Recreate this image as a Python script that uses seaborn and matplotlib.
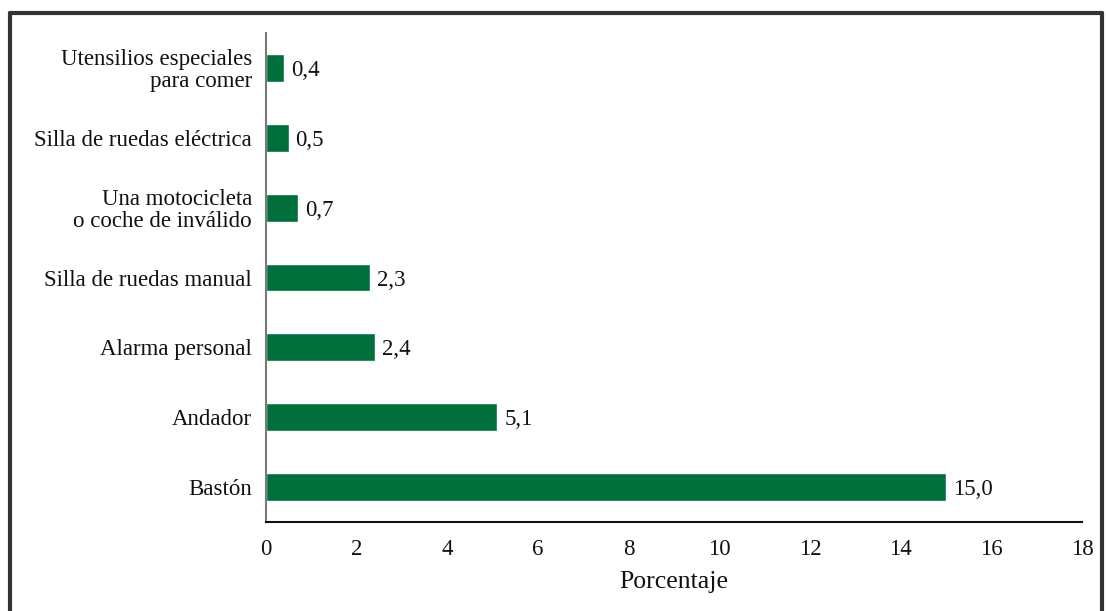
import matplotlib
matplotlib.use("Agg")
import matplotlib.pyplot as plt
from matplotlib.lines import Line2D
import seaborn as sns
import pandas as pd

categories = [
    "Utensilios especiales\npara comer",
    "Silla de ruedas eléctrica",
    "Una motocicleta\no coche de inválido",
    "Silla de ruedas manual",
    "Alarma personal",
    "Andador",
    "Bastón",
]
values = [0.4, 0.5, 0.7, 2.3, 2.4, 5.1, 15.0]
x_ticks = [0, 2, 4, 6, 8, 10, 12, 14, 16, 18]

sns.set_theme(style="white")
plt.rcParams["font.family"] = ["Liberation Serif", "DejaVu Serif"]

df = pd.DataFrame({"categoria": categories, "valor": values})

fig = plt.figure(figsize=(11.06, 6.11), dpi=100)
ax = fig.add_axes([266 / 1106, 89 / 611, 816 / 1106, 489 / 611])

sns.barplot(data=df, x="valor", y="categoria", orient="h", color="#006F3C",
            saturation=1, width=0.4, ax=ax)

labels = [f"{v:.1f}".replace(".", ",") for v in values]
texts = ax.bar_label(ax.containers[0], labels=labels, padding=5, fontsize=16.5,
                     color="#111111")
for t in texts:
    t.set_va("center_baseline")

ax.set_xlim(0, 18)
ax.set_ylim(6.5, -0.5)
ax.set_xticks(x_ticks)
ax.set_xticklabels([str(t) for t in x_ticks])
ax.set_xlabel("Porcentaje", fontsize=18.5, color="#111111", labelpad=8)
ax.set_ylabel("")
ax.tick_params(axis="x", length=0, pad=12, labelsize=16.5, labelcolor="#111111")
ax.tick_params(axis="y", length=0, pad=10, labelsize=16.5, labelcolor="#111111")
for lab in ax.get_yticklabels():
    lab.set_multialignment("right")
    lab.set_linespacing(1.05)

for side in ("top", "right"):
    ax.spines[side].set_visible(False)
ax.spines["left"].set_color("#7a7a7a")
ax.spines["left"].set_linewidth(1.5)
ax.spines["bottom"].set_color("#111111")
ax.spines["bottom"].set_linewidth(1.5)

# Outer frame: top rule and side rules
frame_kw = dict(color="#333333", linewidth=3, transform=fig.transFigure)
fig.add_artist(Line2D([10 / 1106, 1102 / 1106], [1 - 12.5 / 611, 1 - 12.5 / 611], **frame_kw))
fig.add_artist(Line2D([10 / 1106, 10 / 1106], [0, 1 - 12.5 / 611], **frame_kw))
fig.add_artist(Line2D([1102 / 1106, 1102 / 1106], [0, 1 - 12.5 / 611], **frame_kw))

fig.savefig("out.png", dpi=100, facecolor="white")
